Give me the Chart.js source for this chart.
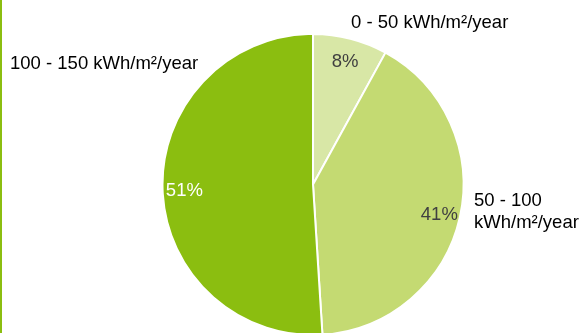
<!DOCTYPE html>
<html lang="en">
<head>
  <meta charset="UTF-8">
  <title>Energy use</title>
  <script src="https://cdn.jsdelivr.net/npm/chart.js"></script>
  <style>
    html, body { margin: 0; padding: 0; background: #fff; overflow: hidden; }
    .wrap { position: relative; width: 585px; height: 336px; border-left: 2px solid #8bbe10; box-sizing: border-box; }
  </style>
</head>
<body>
  <div class="wrap">
    <canvas id="pieChart"></canvas>
  </div>

  <script>
    const categories = ['0 - 50 kWh/m²/year', '50 - 100 kWh/m²/year', '100 - 150 kWh/m²/year'];
    const shares = [8, 41, 51];
    const sliceColors = ['#d8e7a6', '#c4da72', '#8bbe10'];
    const pctColors = ['#404040', '#404040', '#ffffff'];

    // category labels outside the pie, Excel style
    const outerLabels = [
      { lines: ['0 - 50 kWh/m²/year'], dx: 38, dy: -162 },
      { lines: ['50 - 100', 'kWh/m²/year'], dx: 161, dy: 16 },
      { lines: ['100 - 150 kWh/m²/year'], dx: -303, dy: -121 }
    ];
    const pctRadius = [0.855, 0.86, 0.855];

    const labelPlugin = {
      id: 'labels',
      afterDatasetsDraw(chart) {
        const ctx = chart.ctx;
        const arcs = chart.getDatasetMeta(0).data;
        ctx.save();
        ctx.font = '18.5px "Liberation Sans", Arial, sans-serif';
        ctx.textBaseline = 'middle';
        arcs.forEach((arc, i) => {
          const mid = (arc.startAngle + arc.endAngle) / 2;
          const r = arc.outerRadius * pctRadius[i];
          ctx.fillStyle = pctColors[i];
          ctx.textAlign = 'center';
          ctx.fillText(shares[i] + '%', arc.x + Math.cos(mid) * r, arc.y + Math.sin(mid) * r + 2);

          const lab = outerLabels[i];
          ctx.fillStyle = '#000';
          ctx.textAlign = 'left';
          lab.lines.forEach((t, k) => {
            ctx.fillText(t, arc.x + lab.dx, arc.y + lab.dy + k * 22);
          });
        });
        ctx.restore();
      }
    };

    new Chart(document.getElementById('pieChart'), {
      type: 'pie',
      data: {
        labels: categories,
        datasets: [{
          data: shares,
          backgroundColor: sliceColors,
          borderColor: '#ffffff',
          borderWidth: 2
        }]
      },
      options: {
        responsive: true,
        maintainAspectRatio: false,
        animation: false,
        layout: { padding: { top: 33, left: 39, right: 0, bottom: 0 } },
        plugins: {
          legend: { display: false },
          tooltip: { enabled: false }
        }
      },
      plugins: [labelPlugin]
    });
  </script>
</body>
</html>
